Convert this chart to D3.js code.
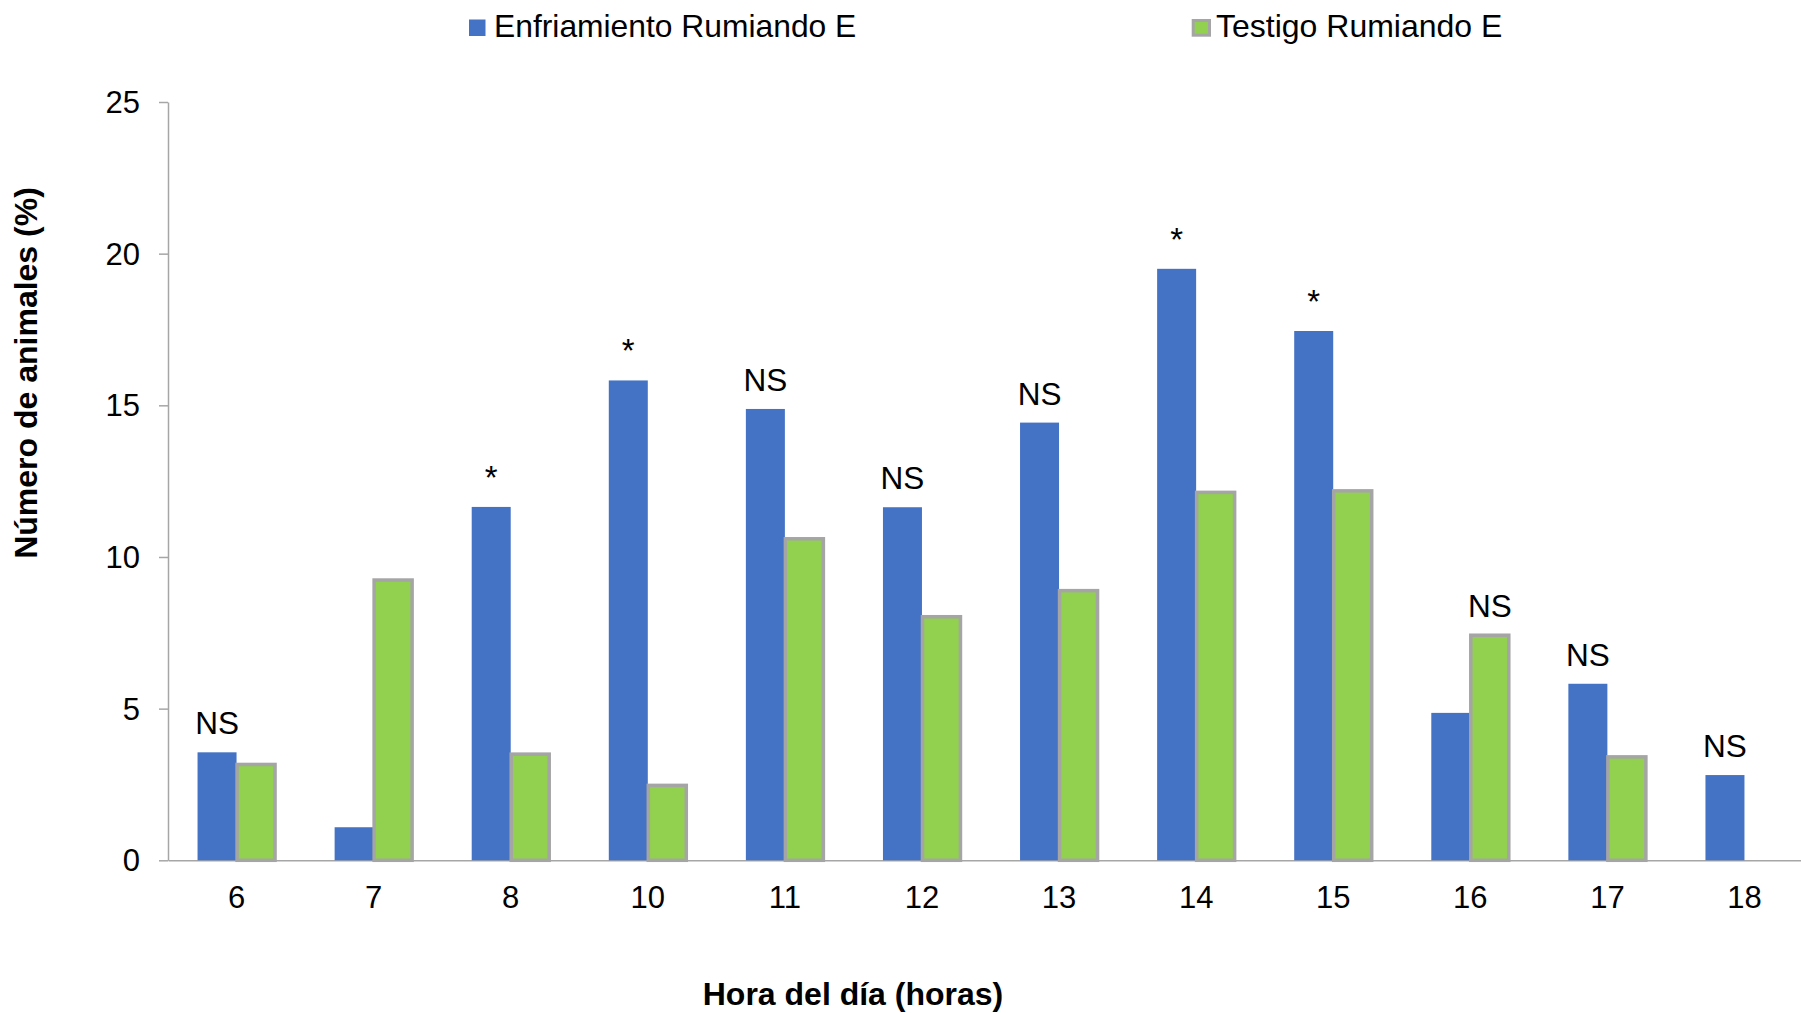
<!DOCTYPE html>
<html>
<head>
<meta charset="utf-8">
<script src="https://cdn.jsdelivr.net/npm/d3@7"></script>
<style>
  html, body { margin: 0; padding: 0; background: #fff; }
  svg { display: block; font-family: "Liberation Sans", Arial, sans-serif; }
</style>
</head>
<body>
<svg id="chart" width="1801" height="1013"></svg>
<script>
// Hour of day (categories)
const hours = ["6", "7", "8", "10", "11", "12", "13", "14", "15", "16", "17", "18"];
// Percentage of animals ruminating, per treatment
const enfriamiento = [3.56, 1.09, 11.65, 15.82, 14.88, 11.64, 14.43, 19.5, 17.45, 4.86, 5.82, 2.81];
const testigo = [3.16, 9.24, 3.50, 2.47, 10.6, 8.03, 8.89, 12.13, 12.18, 7.42, 3.41, null];
// Significance marks shown above each hour
const significance = ["NS", "", "*", "*", "NS", "NS", "NS", "*", "*", "NS", "NS", "NS"];
const seriesNames = ["Enfriamiento Rumiando E", "Testigo Rumiando E"];
const yTicks = [0, 5, 10, 15, 20, 25];

const BLUE = "#4472c4", GREEN = "#92d050", GREY = "#a5a5a5", AXIS = "#a6a6a6";

const svg = d3.select("#chart");

const x = d3.scaleBand().domain(hours).range([168, 1813]).paddingInner(0.431).paddingOuter(0.2155);
const xs = d3.scaleBand().domain(["e", "t"]).range([0, x.bandwidth()]);
const y = d3.scaleLinear().domain([0, 25]).range([860.3, 102]);

// Y axis
const yAxis = svg.append("g")
  .attr("transform", "translate(168,0)")
  .call(d3.axisLeft(y).tickValues(yTicks).tickSize(9).tickSizeOuter(0).tickPadding(19));
yAxis.select(".domain").attr("stroke", AXIS).attr("stroke-width", 1.5);
yAxis.selectAll(".tick line").attr("stroke", AXIS).attr("stroke-width", 1.5);
yAxis.selectAll(".tick text").attr("font-size", 31).attr("fill", "#000")
  .attr("font-family", "'Liberation Sans', Arial, sans-serif").attr("dy", "0.34em");

// X axis
const xAxis = svg.append("g")
  .attr("transform", `translate(0,${y(0)})`)
  .call(d3.axisBottom(x).tickSize(0).tickSizeOuter(0).tickPadding(26));
xAxis.select(".domain").attr("stroke", AXIS).attr("stroke-width", 1.5);
xAxis.selectAll(".tick text").attr("font-size", 31).attr("fill", "#000")
  .attr("font-family", "'Liberation Sans', Arial, sans-serif");

// Bars
const groups = svg.append("g").selectAll("g")
  .data(hours.map((h, i) => ({ h, e: enfriamiento[i], t: testigo[i], s: significance[i] })))
  .join("g")
  .attr("transform", d => `translate(${x(d.h)},0)`);

groups.append("rect")
  .attr("x", xs("e"))
  .attr("width", xs.bandwidth())
  .attr("y", d => y(d.e))
  .attr("height", d => y(0) - y(d.e))
  .attr("fill", BLUE);

groups.filter(d => d.t != null).append("rect")
  .attr("x", xs("t") + 0.5)
  .attr("width", xs.bandwidth() - 1)
  .attr("y", d => y(d.t))
  .attr("height", d => y(0) - y(d.t))
  .attr("fill", GREEN)
  .attr("stroke", GREY)
  .attr("stroke-width", 3.5);

// Significance labels above the taller bar
groups.filter(d => d.s).append("text")
  .attr("x", d => (d.t != null && d.t > d.e ? xs("t") : xs("e")) + xs.bandwidth() / 2)
  .attr("y", d => y(Math.max(d.e, d.t || 0)) - 18)
  .attr("text-anchor", "middle")
  .attr("font-size", d => d.s === "*" ? 33 : 31.5)
  .attr("fill", "#000")
  .text(d => d.s);

// Axis titles
svg.append("text")
  .attr("x", 853)
  .attr("y", 1005)
  .attr("text-anchor", "middle")
  .attr("font-size", 32)
  .attr("font-weight", "bold")
  .text("Hora del día (horas)");

svg.append("text")
  .attr("transform", "translate(37,373) rotate(-90)")
  .attr("text-anchor", "middle")
  .attr("font-size", 32)
  .attr("font-weight", "bold")
  .text("Número de animales (%)");

// Legend
const legend = svg.append("g");
legend.append("rect").attr("x", 469).attr("y", 19.5).attr("width", 16.5).attr("height", 16.5).attr("fill", BLUE);
legend.append("text").attr("x", 494).attr("y", 36.7).attr("font-size", 31.8).text(seriesNames[0]);
legend.append("rect").attr("x", 1193.2).attr("y", 20.5).attr("width", 16.3).attr("height", 14.7)
  .attr("fill", GREEN).attr("stroke", GREY).attr("stroke-width", 3);
legend.append("text").attr("x", 1216).attr("y", 36.7).attr("font-size", 32).text(seriesNames[1]);
</script>
</body>
</html>
